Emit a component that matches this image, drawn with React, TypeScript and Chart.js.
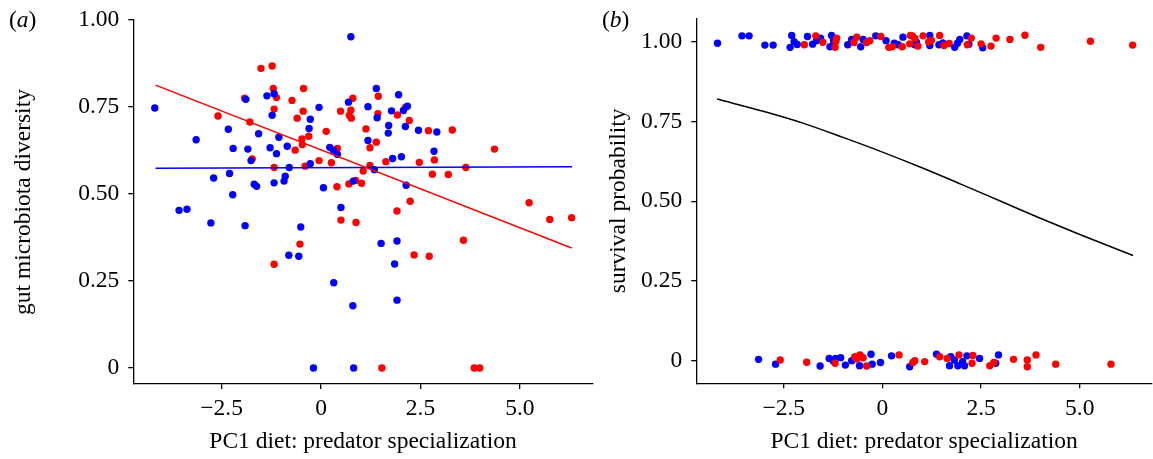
import { useEffect, useRef } from "react";
import { Chart, registerables, ChartConfiguration } from "chart.js";

Chart.register(...registerables);

const FONT_FAMILY = "'Liberation Serif', 'Times New Roman', serif";
const RED = "#ff0000";
const BLUE = "#0000ff";

// shared axis ticks
const xTicks = [-2.5, 0, 2.5, 5];
const xTickLabels = ["\u22122.5", "0", "2.5", "5.0"];
const yTicks = [0, 0.25, 0.5, 0.75, 1];
const yTickLabels = ["0", "0.25", "0.50", "0.75", "1.00"];

// (a) gut microbiota diversity vs PC1 diet
const gutBlue: [number, number][] = [
  [-4.18, 0.747], [-3.57, 0.453], [-3.37, 0.456], [-3.14, 0.656], [-2.77, 0.417],
  [-2.7, 0.546], [-2.33, 0.686], [-2.3, 0.559], [-2.22, 0.498], [-2.21, 0.631],
  [-1.91, 0.409], [-1.89, 0.772], [-1.84, 0.629], [-1.76, 0.596], [-1.68, 0.528],
  [-1.62, 0.522], [-1.57, 0.673], [-1.36, 0.782], [-1.28, 0.633], [-1.23, 0.726],
  [-1.18, 0.788], [-1.18, 0.532], [-1.12, 0.616], [-1.06, 0.663], [-0.93, 0.537],
  [-0.9, 0.551], [-0.85, 0.637], [-0.81, 0.324], [-0.8, 0.576], [-0.56, 0.321],
  [-0.51, 0.405], [-0.3, 0.688], [-0.27, 0.715], [-0.27, 0.587], [-0.19, 0],
  [-0.05, 0.749], [0.06, 0.518], [0.22, 0.634], [0.31, 0.626], [0.32, 0.245],
  [0.41, 0.614], [0.5, 0.461], [0.69, 0.764], [0.75, 0.952], [0.8, 0.179],
  [0.81, 0.537], [0.82, 0], [1.18, 0.751], [1.18, 0.654], [1.34, 0.57],
  [1.39, 0.803], [1.41, 0.719], [1.51, 0.358], [1.69, 0.675], [1.7, 0.697],
  [1.77, 0.739], [1.8, 0.602], [1.85, 0.299], [1.91, 0.365], [1.91, 0.195],
  [1.95, 0.785], [2.02, 0.607], [2.07, 0.74], [2.12, 0.694], [2.14, 0.525],
  [2.17, 0.752], [2.45, 0.683], [2.84, 0.623], [2.91, 0.678],
];
const gutRed: [number, number][] = [
  [-2.59, 0.724], [-1.92, 0.775], [-1.79, 0.707], [-1.73, 0.601], [-1.51, 0.861],
  [-1.23, 0.868], [-1.2, 0.803], [-1.18, 0.744], [-1.18, 0.576], [-1.18, 0.298],
  [-1.12, 0.777], [-0.73, 0.769], [-0.65, 0.626], [-0.6, 0.718], [-0.53, 0.356],
  [-0.48, 0.658], [-0.47, 0.642], [-0.45, 0.738], [-0.44, 0.803], [-0.4, 0.58],
  [-0.31, 0.666], [-0.05, 0.596], [0.13, 0.68], [0.26, 0.59], [0.4, 0.521],
  [0.41, 0.631], [0.49, 0.738], [0.5, 0.425], [0.7, 0.529], [0.71, 0.726],
  [0.75, 0.741], [0.76, 0.718], [0.8, 0.775], [0.87, 0.539], [0.88, 0.418],
  [1.02, 0.531], [1.06, 0.566], [1.13, 0.687], [1.23, 0.633], [1.23, 0.582],
  [1.39, 0.649], [1.43, 0.731], [1.44, 0.781], [1.53, 0], [1.63, 0.593],
  [1.91, 0.451], [1.92, 0.727], [2.12, 0.749], [2.22, 0.711], [2.24, 0.479],
  [2.34, 0.325], [2.47, 0.591], [2.7, 0.682], [2.72, 0.321], [2.8, 0.557],
  [2.85, 0.598], [3.2, 0.556], [3.3, 0.684], [3.58, 0.367], [3.64, 0.576],
  [3.85, 0], [3.99, 0], [4.36, 0.629], [5.23, 0.475], [5.75, 0.427], [6.3, 0.432],
];
const gutRedFit: [number, number][] = [[-4.16, 0.813], [6.3, 0.345]];
const gutBlueFit: [number, number][] = [[-4.16, 0.574], [6.31, 0.578]];

// (b) survival (jittered 0/1) vs PC1 diet
const survBlue: [number, number][] = [
  [-4.18, 0.995], [-3.56, 1.018], [-3.38, 1.018], [-2.98, 0.989], [-2.77, 0.989],
  [-2.34, 0.982], [-2.3, 1.019], [-2.24, 1.0], [-2.16, 0.991], [-1.9, 1.016],
  [-1.77, 0.992], [-1.67, 1.003], [-1.57, 1.011], [-1.33, 0.984], [-1.29, 1.019],
  [-1.24, 1.003], [-0.88, 0.99], [-0.78, 1.007], [-0.55, 0.984], [-0.49, 1.007],
  [-0.17, 1.018], [0.09, 1.003], [0.3, 0.995], [0.4, 0.99], [0.52, 1.014],
  [0.86, 0.998], [0.82, 0.99], [1.2, 1.019], [1.2, 0.988], [1.43, 0.99],
  [1.53, 0.996], [1.83, 0.982], [1.9, 0.995], [1.96, 1.007], [2.14, 1.018],
  [2.19, 0.992], [2.54, 0.981],
  [-3.14, 0.005], [-2.71, -0.01], [-1.58, -0.016], [-1.35, 0.008], [-1.25, 0.0],
  [-1.19, 0.008], [-1.06, 0.01], [-0.94, -0.013], [-0.78, 0.001], [-0.58, -0.015],
  [-0.29, 0.021], [-0.26, -0.01], [-0.05, -0.005], [0.23, 0.016], [0.69, -0.018],
  [1.37, 0.021], [1.7, -0.015], [1.73, 0.013], [1.82, 0.003], [1.91, -0.015],
  [2.03, -0.002], [2.08, -0.015], [2.14, 0.016], [2.46, 0.008], [2.87, -0.007],
  [2.94, 0.019],
];
const survRed: [number, number][] = [
  [-1.98, 0.99], [-1.69, 1.018], [-1.51, 0.998], [-1.2, 0.982], [-1.18, 1.0],
  [-1.16, 1.011], [-0.72, 0.997], [-0.65, 1.014], [-0.4, 0.997], [-0.32, 1.003],
  [-0.04, 1.016], [0.16, 0.982], [0.25, 0.984], [0.5, 0.984], [0.69, 0.993],
  [0.71, 1.019], [0.76, 1.018], [0.82, 1.01], [0.9, 0.986], [1.03, 1.018],
  [1.17, 0.999], [1.24, 1.004], [1.45, 1.019], [1.56, 0.988], [1.69, 0.994],
  [2.15, 0.99], [2.25, 1.011], [2.5, 0.993], [2.75, 0.986], [2.88, 1.011],
  [3.23, 1.007], [3.61, 1.02], [4.01, 0.982], [5.27, 1.001], [6.34, 0.989],
  [-2.59, 0.003], [-1.92, -0.004], [-1.2, -0.007], [-0.7, 0.013], [-0.65, 0.006],
  [-0.57, 0.019], [-0.49, 0.01], [-0.4, -0.016], [0.42, 0.019], [0.77, -0.005],
  [0.82, 0.001], [1.07, -0.002], [1.45, 0.013], [1.64, 0.008], [1.94, 0.019],
  [2.27, -0.007], [2.29, 0.017], [2.72, -0.015], [2.82, -0.005], [3.32, 0.005],
  [3.67, 0.003], [3.67, -0.018], [3.89, 0.019], [4.39, -0.01], [5.79, -0.01],
];
const survCurve: [number, number][] = [
  [-4.19, 0.82], [-3, 0.781], [-2, 0.744], [-1, 0.7], [0, 0.654], [1, 0.605],
  [2, 0.553], [3, 0.5], [4, 0.447], [5, 0.396], [6.35, 0.33],
];

const toXY = (pts: [number, number][]) => pts.map(([x, y]) => ({ x, y }));

interface PanelSpec {
  yTitle: string;
  yMin: number;
  yMax: number;
  yWidth: number;
  xHeight: number;
  padding: { left: number; right: number; top: number; bottom: number };
  yTitlePad: number;
  datasets: any[];
}

function buildConfig(spec: PanelSpec): ChartConfiguration {
  const font = { family: FONT_FAMILY, size: 23.5 };
  const grid = { drawOnChartArea: false, drawTicks: true, tickLength: 5, color: "#000", lineWidth: 1.3 };
  const border = { display: true, color: "#000", width: 1.3 };
  return {
    type: "scatter",
    data: { datasets: spec.datasets },
    options: {
      responsive: false,
      animation: false,
      events: [],
      layout: { padding: spec.padding, autoPadding: false },
      plugins: { legend: { display: false }, tooltip: { enabled: false } },
      scales: {
        x: {
          type: "linear",
          min: -4.72,
          max: 6.83,
          afterBuildTicks: (s: any) => {
            s.ticks = xTicks.map((v) => ({ value: v }));
          },
          afterFit: (s: any) => {
            s.height = spec.xHeight;
            s.paddingLeft = 0;
            s.paddingRight = 0;
          },
          ticks: {
            font,
            color: "#000",
            padding: 6,
            maxRotation: 0,
            autoSkip: false,
            callback: (v: any) => {
              const i = xTicks.indexOf(Number(v));
              return i >= 0 ? xTickLabels[i] : "";
            },
          },
          grid,
          border,
          title: {
            display: true,
            text: "PC1 diet: predator specialization",
            font,
            color: "#000",
            padding: { top: 0, bottom: 2.8 },
          },
        },
        y: {
          type: "linear",
          min: spec.yMin,
          max: spec.yMax,
          afterBuildTicks: (s: any) => {
            s.ticks = yTicks.map((v) => ({ value: v }));
          },
          afterFit: (s: any) => {
            s.width = spec.yWidth;
            s.paddingTop = 0;
            s.paddingBottom = 0;
          },
          ticks: {
            font,
            color: "#000",
            padding: 9,
            autoSkip: false,
            callback: (v: any) => {
              const i = yTicks.indexOf(Number(v));
              return i >= 0 ? yTickLabels[i] : "";
            },
          },
          grid,
          border,
          title: {
            display: true,
            text: spec.yTitle,
            font,
            color: "#000",
            padding: { top: spec.yTitlePad, bottom: 0 },
          },
        },
      },
    },
  } as ChartConfiguration;
}

function pointSet(pts: [number, number][], color: string, order: number) {
  return {
    data: toXY(pts),
    backgroundColor: color,
    borderWidth: 0,
    pointRadius: 3.7,
    pointStyle: "circle",
    order,
  };
}

function lineSet(pts: [number, number][], color: string, order: number, tension = 0) {
  return {
    data: toXY(pts),
    showLine: true,
    borderColor: color,
    borderWidth: 1.5,
    pointRadius: 0,
    tension,
    cubicInterpolationMode: "monotone",
    order,
  };
}

function Panel({ spec, left, width }: { spec: PanelSpec; left: number; width: number }) {
  const chartRef = useRef<HTMLCanvasElement>(null);
  const chartInstance = useRef<Chart | null>(null);

  useEffect(() => {
    if (!chartRef.current) return;
    if (chartInstance.current) chartInstance.current.destroy();
    const ctx = chartRef.current.getContext("2d");
    if (!ctx) return;
    chartInstance.current = new Chart(ctx, buildConfig(spec));
    return () => {
      if (chartInstance.current) {
        chartInstance.current.destroy();
        chartInstance.current = null;
      }
    };
  }, [spec]);

  return (
    <canvas
      ref={chartRef}
      width={width}
      height={459}
      style={{ position: "absolute", left, top: 0, width, height: 459 }}
    />
  );
}

const panelA: PanelSpec = {
  yTitle: "gut microbiota diversity",
  yMin: -0.046,
  yMax: 1.0,
  yWidth: 133.3,
  xHeight: 75,
  padding: { left: 0, right: 7.3, top: 20, bottom: 0 },
  yTitlePad: 10,
  datasets: [
    lineSet(gutRedFit, RED, 0),
    lineSet(gutBlueFit, BLUE, 1),
    pointSet(gutBlue, BLUE, 2),
    pointSet(gutRed, RED, 3),
  ],
};

const panelB: PanelSpec = {
  yTitle: "survival probability",
  yMin: -0.07,
  yMax: 1.073,
  yWidth: 116.2,
  xHeight: 75.7,
  padding: { left: 0, right: 1, top: 18.3, bottom: 0 },
  yTitlePad: 25,
  datasets: [
    lineSet(survCurve, "#000", 0, 0.4),
    pointSet(survRed, RED, 1),
    pointSet(survBlue, BLUE, 2),
  ],
};

const tagStyle = {
  position: "absolute" as const,
  top: 7.5,
  fontFamily: FONT_FAMILY,
  fontSize: 23.5,
  lineHeight: "23.5px",
  color: "#000",
};

export default function App() {
  return (
    <div
      style={{
        position: "fixed",
        left: 0,
        top: 0,
        width: 1153,
        height: 459,
        background: "#fff",
        overflow: "hidden",
      }}
    >
      <Panel spec={panelA} left={0} width={600} />
      <Panel spec={panelB} left={580} width={573} />
      <div style={{ ...tagStyle, left: 9 }}>
        (<i>a</i>)
      </div>
      <div style={{ ...tagStyle, left: 602 }}>
        (<i>b</i>)
      </div>
    </div>
  );
}
